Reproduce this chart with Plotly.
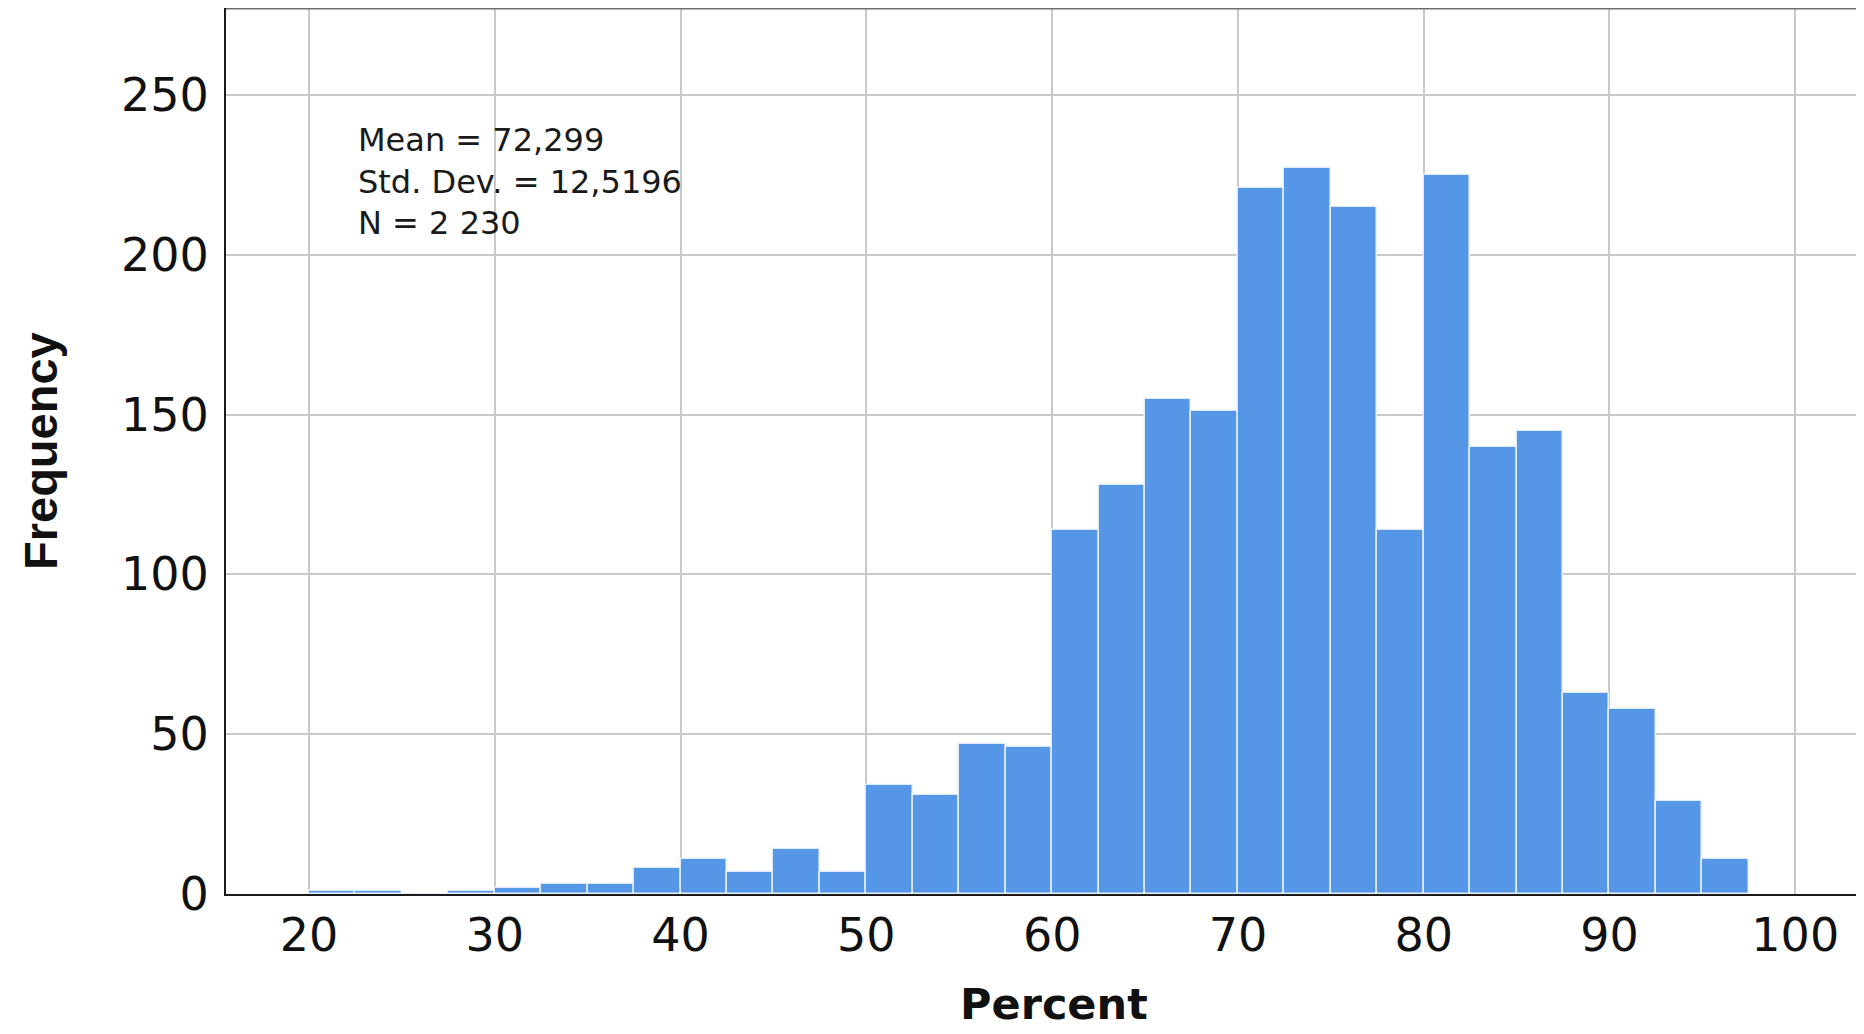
import plotly.graph_objects as go

# ---- data ----
bin_start = 20.0
bin_width = 2.5
counts = [1, 1, 0, 1, 2, 3, 3, 8, 11, 7, 14, 7, 34, 31, 47, 46,
          114, 128, 155, 151, 221, 227, 215, 114, 225, 140, 145, 63, 58, 29, 11]
x_ticks = [20, 30, 40, 50, 60, 70, 80, 90, 100]
y_ticks = [0, 50, 100, 150, 200, 250]
stats_lines = ["Mean = 72,299", "Std. Dev. = 12,5196", "N = 2 230"]
x_title = "Percent"
y_title = "Frequency"

centers = [bin_start + bin_width * (i + 0.5) for i in range(len(counts))]

# page body has an 8px margin, so the figure is sized to fit the window
W, H = 1856, 1026
OFF = 8
ML, MR, MT, MB = 218, 0, 0, 140
plot_w = W - ML - MR
plot_h = H - MT - MB

fig = go.Figure()
fig.add_trace(go.Bar(
    x=centers, y=counts, width=bin_width,
    marker=dict(color="#5596E6", line=dict(color="rgba(235,242,252,0.9)", width=1.6)),
    hoverinfo="x+y", showlegend=False,
))

tick_font = dict(family="DejaVu Sans", size=46, color="#111111")

fig.update_layout(
    width=W, height=H,
    margin=dict(l=ML, r=MR, t=MT, b=MB, pad=0),
    paper_bgcolor="white", plot_bgcolor="white",
    bargap=0,
    xaxis=dict(
        range=[15.53, 103.7], tickmode="array", tickvals=x_ticks,
        ticktext=[str(v) for v in x_ticks],
        showgrid=True, gridcolor="#C9C9C9", gridwidth=2,
        showline=True, linecolor="#1a1a1a", linewidth=2,
        zeroline=False, ticks="", tickfont=tick_font, ticklabelstandoff=0,
    ),
    yaxis=dict(
        range=[0, 277.2], tickmode="array", tickvals=y_ticks,
        ticktext=[str(v) for v in y_ticks],
        showgrid=True, gridcolor="#C9C9C9", gridwidth=2,
        showline=True, linecolor="#1a1a1a", linewidth=2,
        zeroline=False, ticks="", tickfont=tick_font, ticklabelstandoff=6,
    ),
)

# top frame line
fig.add_shape(type="line", xref="paper", yref="paper", x0=0, x1=1, y0=1, y1=1,
              line=dict(color="#6e6e6e", width=3))

# axis titles (screen pixel targets converted to figure coordinates)
fig.add_annotation(text=y_title, xref="paper", yref="paper", x=0, y=0.5,
                   xanchor="center", yanchor="middle", xshift=-(ML + OFF - 40),
                   textangle=-90, showarrow=False,
                   font=dict(family="Liberation Sans", size=47, weight="bold", color="#111111"))
fig.add_annotation(text=x_title, xref="paper", yref="paper",
                   x=(1054 - OFF - ML) / plot_w, y=0, xanchor="center", yanchor="middle",
                   yshift=-(1004 - 894), showarrow=False,
                   font=dict(family="DejaVu Sans", size=43, weight="bold", color="#111111"))

# statistics box text
fig.add_annotation(text="<br>".join(stats_lines), xref="paper", yref="paper",
                   x=(356 - OFF - ML) / plot_w, y=(894 - 182) / plot_h,
                   xanchor="left", yanchor="middle", align="left", showarrow=False,
                   font=dict(family="DejaVu Sans", size=32, color="#1a1a1a"))

fig.write_html("out.html")
